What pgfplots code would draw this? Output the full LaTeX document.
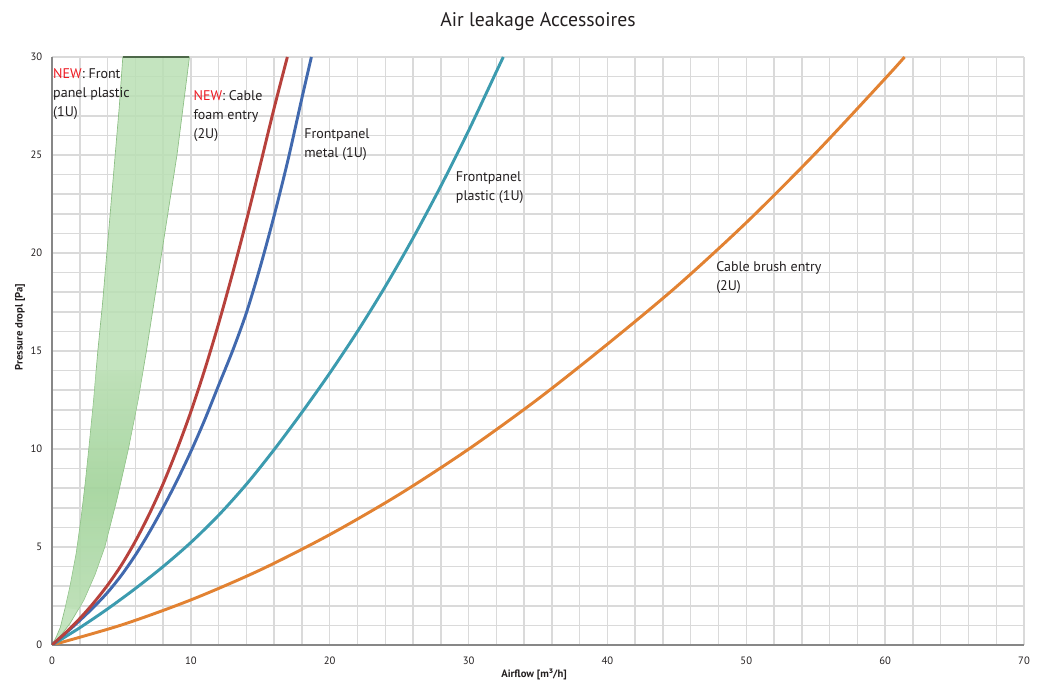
\documentclass[border=0pt]{standalone}
\usepackage{fontspec}
\setmainfont{PT Sans}
\usepackage{pgfplots}
\pgfplotsset{compat=1.18}
\usetikzlibrary{calc}

\definecolor{foam}{RGB}{183,65,60}
\definecolor{metal}{RGB}{65,105,174}
\definecolor{plastic}{RGB}{60,155,175}
\definecolor{brush}{RGB}{226,130,50}
\definecolor{newred}{RGB}{237,28,36}
\definecolor{txt}{RGB}{35,31,32}
\definecolor{gridgray}{RGB}{218,218,218}
\definecolor{axgray}{RGB}{135,135,135}
\definecolor{bandlight}{RGB}{186,223,180}
\definecolor{banddark}{RGB}{150,205,142}
\definecolor{bandedge}{RGB}{140,190,132}

\begin{document}
\begin{tikzpicture}
\begin{axis}[
  name=ax,
  scale only axis,
  width=729pt, height=441pt,
  xmin=0, xmax=70, ymin=0, ymax=30,
  clip mode=individual,
  xtick={0,10,...,70}, ytick={0,5,...,30},
  minor x tick num=4, minor y tick num=4,
  grid=both,
  major grid style={gridgray, line width=1.1pt},
  minor grid style={gridgray, line width=1.1pt},
  axis x line=bottom, axis y line=left,
  axis line style={-, axgray, line width=1.4pt},
  tick style={draw=none},
  /pgf/number format/assume math mode=true,
  ticklabel style={font=\fontsize{8}{9}\selectfont, text=txt},
  xticklabel style={anchor=center, yshift=-9.75pt},
  yticklabel style={anchor=east, inner sep=0pt, xshift=-5pt},
  title={Air leakage Accessoires},
  title style={at={(0.5,1)}, anchor=base, yshift=16.5pt, font=\fontsize{14.8}{16}\selectfont, text=txt},
]

% green band: new front panel plastic (1U)
\addplot[fill=bandlight, fill opacity=0.85, draw=bandedge, line width=0.5pt] coordinates {
  (0,0) (0.3,0.4) (0.6,0.9) (0.95,1.9) (1.3,3) (1.75,4.7) (2.1,6.5) (2.4,8.3) (2.65,10)
  (3.0,12.5) (3.3,15) (3.65,17.5) (3.95,20) (4.25,22.5) (4.55,25) (4.85,27.5) (5.1,30)
  (9.9,30) (9.45,27.5) (9.0,25) (8.45,22.5) (7.9,20) (7.35,17.5) (6.8,15) (6.2,12.5)
  (5.5,10) (4.7,7.5) (3.8,5) (3.1,3.6) (2.3,2.3) (1.3,1.1) (0.6,0.45) (0,0)
} -- cycle;
\addplot[draw=none, fill opacity=0.55, top color=bandlight, bottom color=bandlight, middle color=banddark] coordinates {
  (0.95,1.9) (1.3,3) (1.75,4.7) (2.1,6.5) (2.4,8.3) (2.65,10) (3.0,12.5) (3.15,14)
  (6.55,14) (6.2,12.5) (5.5,10) (4.7,7.5) (3.8,5) (3.1,3.6) (2.3,2.3) (1.9,1.8)
} -- cycle;
\addplot[draw=black!45!bandedge, line width=1pt] coordinates {(5.1,30) (9.9,30)};

% cable brush entry (2U)
\addplot[brush, line width=2.2pt, smooth] coordinates {
  (0,0) (5,1.02) (10,2.3) (15,3.83) (20,5.63) (25,7.68) (30,9.99)
  (35,12.55) (40,15.35) (45,18.3) (50,21.55) (55,25.1) (60,28.9) (61.4,30)
};
% frontpanel plastic (1U)
\addplot[plastic, line width=2.2pt, smooth] coordinates {
  (0,0) (2,0.88) (4,1.84) (6,2.88) (8,4.0) (10,5.23) (12,6.62) (14,8.2) (16,9.97)
  (18,11.87) (20,13.87) (22,16.0) (24,18.29) (26,20.76) (28,23.41) (30,26.24) (32,29.25) (32.5,30)
};
% frontpanel metal (1U)
\addplot[metal, line width=2.2pt, smooth] coordinates {
  (0,0) (1,0.61) (2,1.25) (3,1.93) (4,2.68) (5,3.56) (6,4.58) (7,5.74) (8,7.01) (9,8.38)
  (10,9.87) (11,11.49) (12,13.25) (13,15.0) (14,16.95) (15,19.3) (16,21.91) (17,24.76)
  (18,27.91) (18.68,30)
};
% new cable foam entry (2U)
\addplot[foam, line width=2.2pt, smooth] coordinates {
  (0,0) (1,0.64) (2,1.35) (3,2.15) (4,3.05) (5,4.08) (6,5.29) (7,6.67) (8,8.22) (9,9.97)
  (10,11.9) (11,14.05) (12,16.4) (13,18.95) (14,21.65) (15,24.5) (16,27.4) (16.95,30)
};

\begin{scope}[every node/.style={anchor=north west, align=left, inner sep=0pt,
    font=\fontsize{10.5}{14.25}\selectfont, text=txt}]
  \node at (axis cs:0.07,29.44) {\textcolor{newred}{NEW}: Front\\panel plastic\\(1U)};
  \node at (axis cs:10.18,28.32) {\textcolor{newred}{NEW}: Cable\\foam entry\\(2U)};
  \node at (axis cs:18.15,26.36) {Frontpanel\\metal (1U)};
  \node at (axis cs:29.07,24.15) {Frontpanel\\plastic (1U)};
  \node at (axis cs:47.82,19.56) {Cable brush entry\\(2U)};
\end{scope}

\node[rotate=90, font=\bfseries\fontsize{8}{9}\selectfont, text=txt]
  at ([xshift=-24pt]rel axis cs:0,0.541) {Pressure dropl [Pa]};
\node[font=\bfseries\fontsize{8}{9}\selectfont, text=txt]
  at ([yshift=-21.75pt]rel axis cs:0.496,0) {Airflow [m³/h]};
\end{axis}
\pgfresetboundingbox
\path[use as bounding box] ($(ax.south west)+(-39pt,-29.25pt)$) rectangle ($(ax.north east)+(14.25pt,42.75pt)$);
\end{tikzpicture}
\end{document}
